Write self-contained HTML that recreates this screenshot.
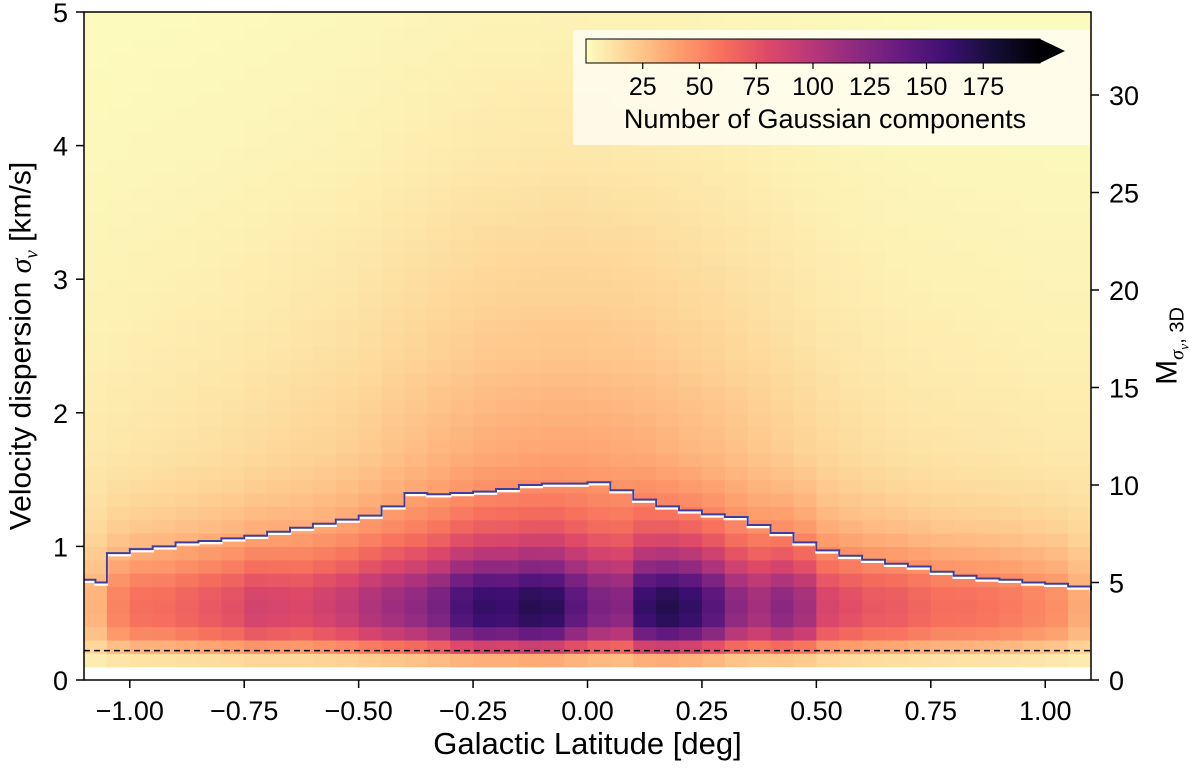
<!DOCTYPE html>
<html><head><meta charset="utf-8"><style>
html,body{margin:0;padding:0;background:#fff;}
svg{display:block;font-family:"Liberation Sans",Arial,sans-serif;}
</style></head><body>
<svg id="chart" width="1200" height="776" viewBox="0 0 1200 776">
<g id="heat"></g>
<g id="overlay"></g>
<g id="axes"></g>
</svg>
<script>
// ---- data ----
const xBinEdges0 = -1.1, xBinWidth = 0.05;           // 44 latitude bins
const yBinWidth = 0.1;                                // 50 sigma bins from 0
const colPeak = [25,50,60,60,65,70,75,85,80,75,80,85,95,100,105,115,140,150,145,155,150,120,100,95,150,165,160,140,110,100,120,110,80,75,70,70,65,60,60,58,55,50,45,30];
const colTail = [22,24,26,28,30,32,34,37,40,43,46,50,55,62,68,74,80,85,88,90,92,92,90,88,85,80,75,70,64,58,52,46,40,36,33,30,28,27,26,25,24,23,22,22];
const coreProfile = [0,0.15,0.5,0.85,1,1,0.95,0.8,0.6,0.45,0.32,0.22,0.15,0.1,0.06,0.03,0.01,0,0,0,0,0,0,0,0,0,0,0,0,0,0,0,0,0,0,0,0,0,0,0,0,0,0,0,0,0,0,0,0,0];
const tailProfile = [0,0.2,0.35,0.45,0.55,0.6,0.62,0.62,0.6,0.58,0.55,0.52,0.5,0.48,0.46,0.44,0.42,0.4,0.38,0.36,0.34,0.32,0.3,0.28,0.26,0.25,0.24,0.22,0.21,0.2,0.19,0.18,0.17,0.16,0.15,0.14,0.13,0.12,0.11,0.1,0.095,0.09,0.085,0.08,0.075,0.07,0.065,0.06,0.055,0.05];
const medianLat = [-1.1,-1.075,-1.05,-1.0,-0.95,-0.9,-0.85,-0.8,-0.75,-0.7,-0.65,-0.6,-0.55,-0.5,-0.45,-0.4,-0.35,-0.3,-0.25,-0.2,-0.15,-0.1,-0.05,0.0,0.05,0.1,0.15,0.2,0.25,0.3,0.35,0.4,0.45,0.5,0.55,0.6,0.65,0.7,0.75,0.8,0.85,0.9,0.95,1.0,1.05,1.1];
const medianSigma = [0.75,0.73,0.95,0.98,1.0,1.03,1.04,1.06,1.08,1.11,1.14,1.17,1.2,1.23,1.3,1.4,1.39,1.4,1.41,1.43,1.46,1.47,1.47,1.48,1.42,1.35,1.3,1.27,1.24,1.22,1.16,1.1,1.03,0.97,0.93,0.9,0.87,0.85,0.81,0.78,0.76,0.75,0.73,0.72,0.7,0.67];
const dashedSigma = 0.22;
const xTicks = [-1.0,-0.75,-0.5,-0.25,0,0.25,0.5,0.75,1.0];
const xTickLabels = ["\u22121.00","\u22120.75","\u22120.50","\u22120.25","0.00","0.25","0.50","0.75","1.00"];
const yTicks = [0,1,2,3,4,5];
const machTicks = [0,5,10,15,20,25,30];
const cbTicks = [25,50,75,100,125,150,175];

// ---- scales ----
const L=84,R=1091,T=12,B=680;
const X = v => L + (v + 1.1) / 2.2 * (R - L);
const Y = v => B - v / 5 * (B - T);
const M = m => B - m * 19.5;
const VMAX = 200;
const CBX0 = 586, CBX1 = 1040;
const CB = c => CBX0 + c / VMAX * (CBX1 - CBX0);

const stops = ["#000004","#140e36","#3b0f70","#641a80","#8c2981","#b73779","#de4968","#f7705c","#fe9f6d","#fecf92","#fcfdbf"];
function hex(h){return [parseInt(h.slice(1,3),16),parseInt(h.slice(3,5),16),parseInt(h.slice(5,7),16)];}
function magmaR(c){
  let t = 1 - Math.min(Math.max(c / VMAX, 0), 1);
  const p = t * 10, i = Math.min(Math.floor(p), 9), f = p - i;
  const a = hex(stops[i]), b = hex(stops[i+1]);
  return `rgb(${a.map((v,k)=>Math.round(v+(b[k]-v)*f)).join(',')})`;
}
const NS = "http://www.w3.org/2000/svg";
function mk(tag, attrs, parent){
  const e = document.createElementNS(NS, tag);
  for (const k in attrs) e.setAttribute(k, attrs[k]);
  parent.appendChild(e); return e;
}

// ---- heatmap ----
const heat = document.getElementById('heat');
for (let i = 0; i < colPeak.length; i++) {
  for (let j = 0; j < coreProfile.length; j++) {
    const v = colPeak[i] * coreProfile[j] * 0.75 + colTail[i] * tailProfile[j];
    if (v <= 0) continue;
    const x0 = X(xBinEdges0 + i * xBinWidth), x1 = X(xBinEdges0 + (i + 1) * xBinWidth);
    const y0 = Y((j + 1) * yBinWidth), y1 = Y(j * yBinWidth);
    const r = mk('rect', {x:x0.toFixed(2), y:y0.toFixed(2), width:(x1-x0+0.6).toFixed(2), height:(y1-y0+0.6).toFixed(2), fill:magmaR(v)}, heat);
    
    
  }
}

// ---- overlay ----
const ov = document.getElementById('overlay');
const dl = mk('line', {x1:L, x2:R, y1:Y(dashedSigma), y2:Y(dashedSigma), stroke:'#000', 'stroke-width':1.5, 'stroke-dasharray':'6,4'}, ov);


let d = '';
for (let k = 0; k < medianLat.length; k++) {
  const x = X(medianLat[k]), y = Y(medianSigma[k]);
  if (k === 0) d += `M${x},${y}`; else d += `H${x}V${y}`;
}
d += `H${R}`;
const wl = mk('path', {d:d, fill:'none', stroke:'#fff', 'stroke-width':2.5, transform:'translate(0,2)'}, ov);


const bl = mk('path', {d:d, fill:'none', stroke:'#3f3f9a', 'stroke-width':2}, ov);



// ---- colorbar ----
const cbBox = mk('rect', {x:573, y:30, width:517, height:115, fill:'#fffdf2', 'fill-opacity':0.85}, ov);


const defs = mk('defs', {}, ov);
const grad = mk('linearGradient', {id:'cbg', x1:0, x2:1, y1:0, y2:0}, defs);
for (let s = 0; s <= 20; s++) mk('stop', {offset: s/20, 'stop-color': magmaR(s/20*VMAX)}, grad);
const cbr = mk('rect', {x:CBX0, y:39, width:CBX1-CBX0, height:24, fill:'url(#cbg)', stroke:'#000', 'stroke-width':1}, ov);


const tri = mk('polygon', {points:`${CBX1},39 ${CBX1+25},51 ${CBX1},63`, fill:'#000004'}, ov);


for (const c of cbTicks) {
  mk('line', {x1:CB(c), x2:CB(c), y1:63, y2:69, stroke:'#000', 'stroke-width':1.2}, ov);
  const t = mk('text', {x:CB(c), y:95, 'font-size':25, 'text-anchor':'middle'}, ov);
  t.textContent = c;
  
  
}
const cbt = mk('text', {x:825, y:128, 'font-size':27, 'text-anchor':'middle'}, ov);
cbt.textContent = 'Number of Gaussian components';



// ---- axes ----
const ax = document.getElementById('axes');
const frame = mk('rect', {x:L, y:T, width:R-L, height:B-T, fill:'none', stroke:'#000', 'stroke-width':1.5}, ax);


xTicks.forEach((v, k) => {
  mk('line', {x1:X(v), x2:X(v), y1:B, y2:B+8, stroke:'#000', 'stroke-width':1.5}, ax);
  const t = mk('text', {x:X(v), y:B+40, 'font-size':27, 'text-anchor':'middle'}, ax);
  t.textContent = xTickLabels[k];
  
  
});
yTicks.forEach(v => {
  mk('line', {x1:L-8, x2:L, y1:Y(v), y2:Y(v), stroke:'#000', 'stroke-width':1.5}, ax);
  const t = mk('text', {x:L-16, y:Y(v)+10, 'font-size':27, 'text-anchor':'end'}, ax);
  t.textContent = v;
  
  
});
machTicks.forEach(v => {
  mk('line', {x1:R, x2:R+8, y1:M(v), y2:M(v), stroke:'#000', 'stroke-width':1.5}, ax);
  const t = mk('text', {x:R+18, y:M(v)+10, 'font-size':27, 'text-anchor':'start'}, ax);
  t.textContent = v;
  
  
});
</script>
<div style="position:absolute;left:0;top:0;width:1200px;height:776px;pointer-events:none;">
<div style="position:absolute;left:0;width:1175px;top:726px;text-align:center;font:31px 'Liberation Sans',sans-serif;">Galactic Latitude [deg]</div>
<div style="position:absolute;left:24px;top:346px;width:0;height:0;"><div style="position:absolute;transform:translate(-50%,-50%) rotate(-90deg);white-space:nowrap;font:30px 'Liberation Sans',sans-serif;">Velocity dispersion <i style="font-family:'Liberation Serif',serif;">σ<sub style="font-size:19px">v</sub></i> [km/s]</div></div>
<div style="position:absolute;left:1172px;top:346px;width:0;height:0;"><div style="position:absolute;transform:translate(-50%,-50%) rotate(-90deg);white-space:nowrap;font:30px 'Liberation Sans',sans-serif;">M<sub style="font-size:20px"><i style="font-family:'Liberation Serif',serif;">σ<sub style="font-size:14px">v</sub></i>, 3D</sub></div></div>
</div>
</body></html>
